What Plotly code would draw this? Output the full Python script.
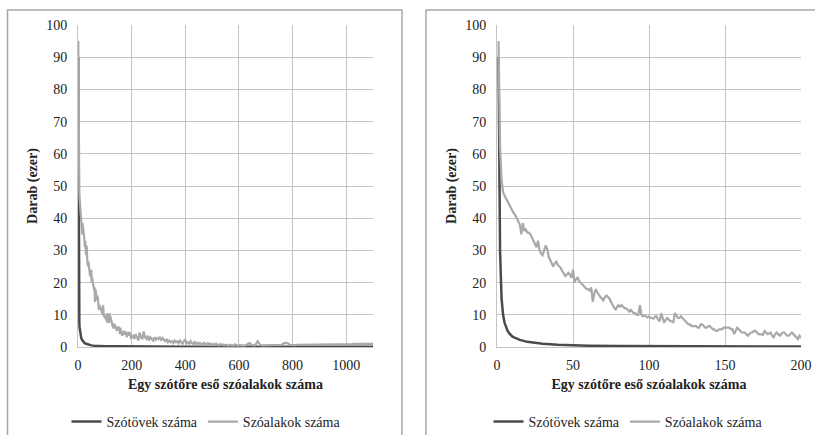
import plotly.graph_objects as go

# ---------------- data ----------------
# x positions (szóalakok száma per szótő)
x_forms = list(range(1, 201)) + list(range(205, 601, 5)) + list(range(610, 1101, 10))

# Szóalakok száma (ezer)
gray_vals = [
    95, 62, 52, 48, 47, 46, 45, 44, 43, 42,
    41.5, 41, 40, 39.5, 38, 35, 38.5, 36, 36.5, 35.5,
    35.5, 35, 34, 33, 32, 31, 33, 30, 29, 28.5,
    30, 31.5, 30.5, 28, 27, 26, 25, 26, 26.5, 25.5,
    25, 24.5, 23.5, 22.5, 22, 22.5, 23, 22.5, 21.5, 24,
    20, 21, 21.5, 20.5, 20, 19.5, 19, 18.5, 18, 18,
    17.5, 18.5, 14, 16.5, 18, 17, 16, 15.5, 15, 14.5,
    15.5, 16, 15.5, 15, 14, 13, 12, 11.5, 12.5, 13,
    12.5, 13, 12.5, 12, 12, 11.5, 11, 11.5, 11, 10.5,
    10.5, 10, 10, 13, 10, 9.5, 9.8, 9.5, 9.2, 9.5,
    9, 9, 8.8, 9.5, 9.5, 8.5, 8, 10.5, 9, 7.5,
    8.5, 9, 8.5, 8, 8, 7.5, 10.5, 9.5, 9, 9,
    9.5, 9, 8.5, 8, 7.5, 7, 7, 6.5, 6.5, 6.5,
    6.5, 6, 6, 7, 7, 6.5, 6, 6, 6.5, 6.5,
    6, 5.5, 5.5, 5, 5, 5.5, 5.5, 5.5, 6, 6,
    6, 6, 6, 5.5, 5.5, 4, 5, 6, 5.5, 5,
    4.5, 4.5, 4.5, 4, 3.5, 4, 4.5, 4.5, 5, 5,
    4.5, 4, 4, 3.8, 3.8, 5, 4.5, 4, 4.2, 4.5,
    3.5, 3, 4, 4.5, 4, 3.5, 4, 4.5, 4.5, 4,
    3.5, 3.5, 4, 4.5, 4, 3.5, 3, 2.5, 3.5, 3,
    # 205 .. 600 step 5
    3.5, 2.5, 4, 3, 2, 4.5, 3, 2.5, 4.8, 3,
    2.5, 3.5, 2, 3, 2.5, 2, 3, 2.2, 2.8, 2.5,
    3, 2, 2.8, 2.2, 1.8, 2.5, 1.5, 2, 1.5, 1.8,
    1.2, 2, 1.5, 1.8, 1.2, 2, 1.5, 1, 1.8, 2.3,
    1.2, 1.5, 1, 1.8, 1.2, 1, 1.5, 0.8, 1.3, 1,
    1.2, 0.8, 1, 1.3, 0.7, 1, 1.2, 0.8, 1, 0.7,
    0.9, 0.6, 1, 0.7, 0.5, 0.9, 0.6, 0.8, 0.5, 0.7,
    0.6, 0.4, 0.7, 0.5, 0.6, 0.4, 0.8, 0.5, 0.4, 0.6,
    # 610 .. 1100 step 10
    0.5, 0.4, 0.8, 1.2, 0.6, 0.5, 1.8, 0.6, 0.5, 0.5,
    0.5, 0.6, 0.5, 0.6, 0.6, 0.7, 1.3, 1.2, 0.7, 0.6,
    0.6, 0.7, 0.7, 0.7, 0.7, 0.8, 0.8, 0.8, 0.8, 0.8,
    0.8, 0.8, 0.8, 0.9, 0.9, 0.9, 0.9, 0.9, 0.9, 0.9,
    0.9, 0.9, 1, 1, 1, 1, 1, 1, 1, 1,
]

# Szótövek száma (ezer)
dark_x = [1, 2, 3, 4, 5, 6, 7, 8, 9, 10, 12, 15, 20, 25, 30, 40, 50, 60, 80, 100, 150, 200, 300, 400, 600, 800, 1100]
dark_vals = [90, 30, 15, 10, 7.5, 6, 5, 4.3, 3.8, 3.3, 2.8, 2.2, 1.6, 1.2, 1.0, 0.7, 0.5, 0.4, 0.3, 0.25, 0.2, 0.15, 0.12, 0.1, 0.1, 0.1, 0.1]

series_names = ["Szótövek száma", "Szóalakok száma"]
x_title = "Egy szótőre eső szóalakok száma"
y_title = "Darab (ezer)"
y_ticks = [0, 10, 20, 30, 40, 50, 60, 70, 80, 90, 100]
x_ticks_left = [0, 200, 400, 600, 800, 1000]
x_ticks_right = [0, 50, 100, 150, 200]

# ---------------- figure ----------------
W, H = 815, 435
ML, MR, MT, MB = 60, 8, 15, 85
PW, PH = W - ML - MR, H - MT - MB
DARK = "#4a4a4a"
LIGHT = "#a9a9a9"
GRID = "#c4c4c4"
FONT = "Liberation Serif, Times New Roman, DejaVu Serif, serif"

fig = go.Figure()

for (xa, ya, leg) in [("x", "y", "legend"), ("x2", "y2", "legend2")]:
    fig.add_trace(go.Scatter(x=dark_x, y=dark_vals, mode="lines", name=series_names[0],
                             line=dict(color=DARK, width=2.5), xaxis=xa, yaxis=ya, legend=leg))
    fig.add_trace(go.Scatter(x=x_forms, y=gray_vals, mode="lines", name=series_names[1],
                             line=dict(color=LIGHT, width=2.2), xaxis=xa, yaxis=ya, legend=leg))

def px_x(p):
    return (p - ML) / PW

def px_y(p):
    return (H - MB - p) / PH

ydom = [px_y(347), px_y(25)]

axis_common = dict(showgrid=True, gridcolor=GRID, gridwidth=1, zeroline=False,
                   showline=True, linecolor=GRID, linewidth=1, ticks="", automargin=False,
                   tickfont=dict(family=FONT, size=14, color="#222"))

fig.update_layout(
    width=W, height=H, autosize=False,
    margin=dict(l=ML, r=MR, t=MT, b=MB, autoexpand=False),
    paper_bgcolor="white", plot_bgcolor="white",
    font=dict(family=FONT, size=14, color="#222"),
    xaxis=dict(domain=[px_x(78), px_x(373)], range=[0, 1100], tickvals=x_ticks_left,
               anchor="y", ticklabelstandoff=5,
               title=dict(text=f"<b>{x_title}</b>", standoff=7, font=dict(family=FONT, size=14)),
               **axis_common),
    yaxis=dict(domain=ydom, range=[0, 100], tickvals=y_ticks, anchor="x", ticklabelstandoff=7,
               title=dict(text=f"<b>{y_title}</b>", standoff=5, font=dict(family=FONT, size=14)),
               **axis_common),
    xaxis2=dict(domain=[px_x(497), px_x(801)], range=[0, 200], tickvals=x_ticks_right,
                anchor="y2", ticklabelstandoff=5,
                title=dict(text=f"<b>{x_title}</b>", standoff=7, font=dict(family=FONT, size=14)),
                **axis_common),
    yaxis2=dict(domain=ydom, range=[0, 100], tickvals=y_ticks, anchor="x2", ticklabelstandoff=7,
                title=dict(text=f"<b>{y_title}</b>", standoff=5, font=dict(family=FONT, size=14)),
                **axis_common),
    legend=dict(orientation="h", x=px_x(206), y=px_y(422), xanchor="center", yanchor="middle",
                font=dict(family=FONT, size=14, color="#222"), itemwidth=30,
                bgcolor="rgba(0,0,0,0)", tracegroupgap=0),
    legend2=dict(orientation="h", x=px_x(628), y=px_y(422), xanchor="center", yanchor="middle",
                 font=dict(family=FONT, size=14, color="#222"), itemwidth=30,
                 bgcolor="rgba(0,0,0,0)", tracegroupgap=0),
    showlegend=True,
    shapes=[
        dict(type="rect", xref="paper", yref="paper", x0=px_x(7.5), x1=px_x(402),
             y0=px_y(445), y1=px_y(10), line=dict(color="#a8a8a8", width=1.5), layer="below"),
        dict(type="rect", xref="paper", yref="paper", x0=px_x(426), x1=px_x(830),
             y0=px_y(445), y1=px_y(10), line=dict(color="#a8a8a8", width=1.5), layer="below"),
    ],
)

fig.write_html("out.html", config={"displayModeBar": False},
               post_script="document.body.style.margin='0';document.body.style.overflow='hidden';")
